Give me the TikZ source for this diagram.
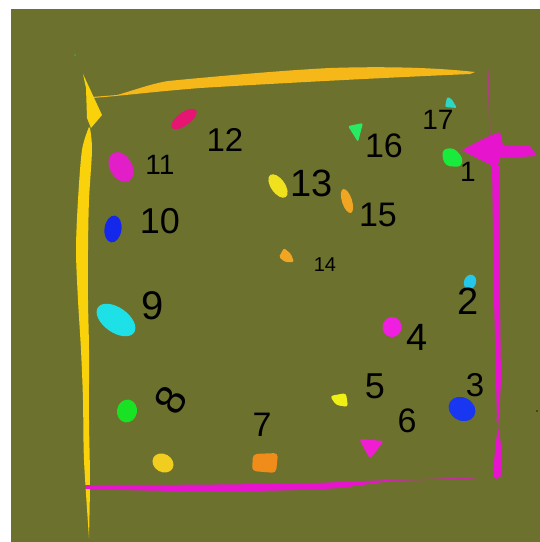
\documentclass[tikz,border=0pt]{standalone}
\usepackage{fontspec}
\setmainfont{Liberation Sans}
\usetikzlibrary{shapes.geometric}
\definecolor{bgolive}{RGB}{109,113,46}
\definecolor{topyel}{RGB}{245,184,24}
\definecolor{leftyel}{RGB}{250,210,12}
\definecolor{magc}{RGB}{230,20,205}
\definecolor{cA}{RGB}{230,20,115}
\definecolor{cB}{RGB}{225,30,200}
\definecolor{cC}{RGB}{20,40,235}
\definecolor{cD}{RGB}{30,225,232}
\definecolor{cE}{RGB}{25,225,35}
\definecolor{cF}{RGB}{240,205,30}
\definecolor{cG}{RGB}{240,140,25}
\definecolor{cH}{RGB}{240,30,210}
\definecolor{cI}{RGB}{240,240,20}
\definecolor{cJ}{RGB}{240,30,225}
\definecolor{cK}{RGB}{25,55,240}
\definecolor{cL}{RGB}{35,200,235}
\definecolor{cM}{RGB}{25,235,60}
\definecolor{cN}{RGB}{45,215,195}
\definecolor{cO}{RGB}{40,235,100}
\definecolor{cP}{RGB}{240,225,30}
\definecolor{cQ}{RGB}{240,165,35}
\begin{document}
\begin{tikzpicture}[x=1pt,y=-1pt,
  blob/.style={ellipse, draw=none, inner sep=0pt},
  lab/.style={inner sep=0pt, text=black, font=\fontsize{#1}{#1}\selectfont}]
\useasboundingbox (0,0) rectangle (540,542);
\fill[white] (0,0) rectangle (540,542);
\fill[bgolive] (11,9) rectangle (540,542);
% tiny specks
\fill[cE!70!bgolive] (75,55) circle (0.9);
\fill[black!80!bgolive] (537,411) circle (0.9);
% top yellow stroke
\fill[topyel] (92,97) -- (117,95) .. controls (135,90) and (150,84) .. (168,81)
  .. controls (230,75) and (290,70) .. (330,68)
  .. controls (390,66) and (440,68) .. (475,72)
  -- (470,74) .. controls (400,77) and (300,82) .. (200,88)
  .. controls (150,92) and (120,96) .. (92,98) -- cycle;
% left yellow flag
\fill[leftyel] (83,74) -- (102,115) -- (91,128) -- (87,118) -- (86,88) -- cycle;
% left yellow vertical stroke
\fill[leftyel] plot[smooth] coordinates {(89,127) (82,150) (78,200) (76,250) (78,300) (81,350) (83,400) (84,460) (89,538)}
  -- plot[smooth] coordinates {(89,538) (90,480) (89,420) (89,350) (88,300) (88,250) (89,200) (92,150) (90,128)} -- cycle;
% bottom magenta stroke
\fill[magc] (85,485) .. controls (200,485) and (300,484) .. (340,482)
  -- (390,480) -- (390,481) -- (340,488) .. controls (280,492) and (180,492) .. (85,489) -- cycle;
\draw[magc!70!bgolive, line width=1.2pt] (390,480.5) -- (475,478);
% right magenta vertical
\draw[magc!55!bgolive, line width=1.2pt] (488,70) -- (490,135);
\fill[magc] (492,165) -- (499,165) -- (500,300) -- (501,380) -- (499,418) -- (497,423) -- (496,380) -- (494,300) -- cycle;
\fill[magc!60!bgolive] (496,418) -- (499,418) -- (498,428) -- cycle;
\fill[magc] (498,426) -- (501,445) -- (501,476) -- (497,479) -- (493,476) -- (495,450) -- cycle;
% magenta arrow
\fill[magc] (462,150) .. controls (475,143) and (488,136) .. (500,132) -- (503,145) -- (530,146)
  -- (537,156) -- (500,158) -- (497,168) .. controls (485,162) and (472,156) .. (462,150) -- cycle;
% blobs
\node[blob, fill=cA, minimum width=30pt, minimum height=13pt, rotate=36] (b12) at (184,119) {};
\node[blob, fill=cB, minimum width=32pt, minimum height=22pt, rotate=-60] (b11) at (121,167) {};
\node[blob, fill=cC, minimum width=27pt, minimum height=17pt, rotate=82] (b10) at (113,229) {};
\node[blob, fill=cD, minimum width=44pt, minimum height=25pt, rotate=-35] (b9) at (116,320) {};
\node[blob, fill=cE, minimum width=23pt, minimum height=20pt, rotate=80] (b8) at (127,411) {};
\node[blob, fill=cF, minimum width=22pt, minimum height=18pt, rotate=-30] (by) at (163,463) {};
\fill[cG, rounded corners=4pt] (253,454) -- (278,453) -- (276,473) -- (252,471) -- cycle;
\fill[cH, rounded corners=3pt] (359,439) -- (384,441) -- (370,459) -- cycle;
\fill[cI, rounded corners=3pt] (330,396) -- (346,393) -- (348,407) -- (336,405) -- cycle;
\node[blob, fill=cJ, minimum width=19pt, minimum height=20pt] (b4) at (392,327) {};
\node[blob, fill=cK, minimum width=28pt, minimum height=23pt, rotate=-30] (b3) at (462,409) {};
\node[blob, fill=cL, minimum width=15pt, minimum height=12pt, rotate=70] (b2) at (470,282) {};
\fill[cM, rounded corners=4pt] (443,149) -- (454,148) -- (463,158) -- (461,167) -- (446,166) -- (442,157) -- cycle;
\fill[cN, rounded corners=2pt] (447,97) -- (451,98) -- (457,108) -- (445,107) -- cycle;
\fill[cO, rounded corners=2pt] (348,126) -- (363,123) -- (358,142) -- cycle;
\node[blob, fill=cP, minimum width=27pt, minimum height=14pt, rotate=-55] (b13) at (278,186) {};
\node[blob, fill=cQ, minimum width=25pt, minimum height=10pt, rotate=-72] (b15) at (347,201) {};
\fill[cQ, rounded corners=1.5pt] (284,248) -- (291,254) -- (294,262) -- (285,262) -- (279,257) -- cycle;
% labels
\node[lab=33] (t12) at (225,140) {12};
\node[lab=28] (t11) at (160,165) {11};
\node[lab=36] (t10) at (160,221) {10};
\node[lab=40] (t9) at (153,306) {9};
\node[lab=42, rotate=60] (t8) at (171,400) {8};
\node[lab=34] (t7) at (262,425) {7};
\node[lab=34] (t6) at (407,421) {6};
\node[lab=36] (t5) at (375,386) {5};
\node[lab=38] (t4) at (417,337) {4};
\node[lab=33] (t3) at (475,385) {3};
\node[lab=38] (t2) at (468,301) {2};
\node[lab=28] (t1) at (468,172) {1};
\node[lab=28] (t17) at (438,120) {17};
\node[lab=34] (t16) at (384,146) {16};
\node[lab=38] (t13) at (312,183) {13};
\node[lab=34] (t15) at (378,215) {15};
\node[lab=20] (t14) at (325,265) {14};
\end{tikzpicture}
\end{document}
